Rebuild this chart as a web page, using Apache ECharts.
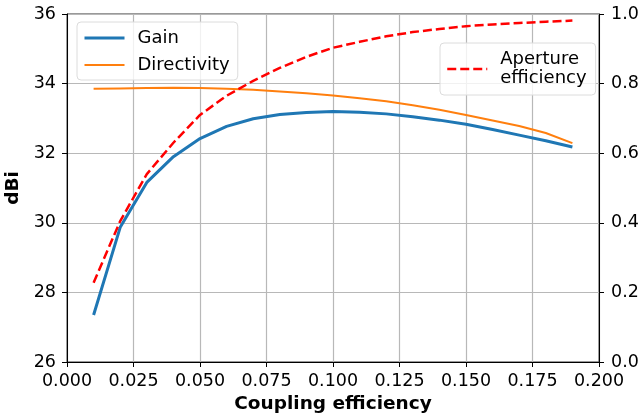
<!DOCTYPE html>
<html>
<head>
<meta charset="utf-8">
<script src="https://cdn.jsdelivr.net/npm/echarts@6/dist/echarts.min.js"></script>
<style>
  html, body { margin: 0; padding: 0; background: #fff; }
  #chart { width: 642px; height: 420px; }
</style>
</head>
<body>
<div id="chart"></div>
<script>
// Coupling efficiency samples
const coupling = [0.01, 0.02, 0.03, 0.04, 0.05, 0.06, 0.07, 0.08, 0.09, 0.10,
                  0.11, 0.12, 0.13, 0.14, 0.15, 0.16, 0.17, 0.18, 0.19];
// Gain (dBi)
const gain = [27.35, 29.87, 31.16, 31.9, 32.42, 32.77, 32.99, 33.11, 33.17, 33.2,
              33.18, 33.13, 33.05, 32.95, 32.83, 32.68, 32.52, 32.36, 32.18];
// Directivity (dBi)
const directivity = [33.85, 33.86, 33.87, 33.88, 33.87, 33.85, 33.82, 33.77, 33.72, 33.66,
                     33.58, 33.49, 33.38, 33.25, 33.1, 32.94, 32.78, 32.58, 32.29];
// Aperture efficiency (right axis)
const aperture = [0.228, 0.405, 0.54, 0.63, 0.71, 0.765, 0.808, 0.845, 0.877, 0.903,
                  0.92, 0.936, 0.948, 0.957, 0.965, 0.97, 0.974, 0.978, 0.981];

const pairs = (xs, ys) => xs.map((x, i) => [x, ys[i]]);
const FONT = 'DejaVu Sans';
const TICK_SIZE = 17.5;
const TITLE_SIZE = 18.5;

const chart = echarts.init(document.getElementById('chart'), null, { renderer: 'canvas' });

const legendBox = {
  orient: 'vertical',
  itemWidth: 40, itemHeight: 14,
  backgroundColor: 'rgba(255,255,255,0.8)',
  borderColor: '#dcdcdc', borderWidth: 1, borderRadius: 4,
  itemStyle: { opacity: 0 },
  textStyle: { fontFamily: FONT, fontSize: 18, color: '#000', padding: [0, 0, 0, 8] }
};

chart.setOption({
  animation: false,
  backgroundColor: '#fff',
  textStyle: { fontFamily: FONT },
  grid: {
    left: 67, right: 43, top: 14, bottom: 58,
    outerBoundsMode: 'none', containLabel: false,
    show: true, borderColor: '#333', borderWidth: 1, backgroundColor: 'transparent'
  },
  legend: [
    Object.assign({}, legendBox, {
      data: [
        { name: 'Gain', lineStyle: { width: 3 } },
        { name: 'Directivity', lineStyle: { width: 2 } }
      ],
      left: 77, top: 22, itemGap: 9,
      padding: [7, 8, 6, 6]
    }),
    Object.assign({}, legendBox, {
      data: [{ name: 'Aperture\nefficiency', lineStyle: { width: 2.5 } }],
      left: 440, top: 43,
      padding: [7, 9, 7, 6],
      textStyle: Object.assign({}, legendBox.textStyle, { lineHeight: 19 })
    })
  ],
  xAxis: {
    type: 'value', min: 0, max: 0.2, interval: 0.025,
    name: 'Coupling efficiency', nameLocation: 'middle', nameGap: 32,
    nameTextStyle: { fontFamily: FONT, fontSize: TITLE_SIZE, fontWeight: 'bold', color: '#000' },
    axisLine: { show: true, onZero: false, lineStyle: { color: '#000', width: 1 } },
    axisTick: { show: true, length: 5, lineStyle: { color: '#000' } },
    axisLabel: { fontFamily: FONT, fontSize: TICK_SIZE, color: '#000', margin: 10,
                 formatter: v => v.toFixed(3) },
    splitLine: { show: true, lineStyle: { color: '#b8b8b8', width: 1.2 } }
  },
  yAxis: [
    {
      type: 'value', min: 26, max: 36, interval: 2,
      name: 'dBi', nameLocation: 'middle', nameGap: 38,
      nameTextStyle: { fontFamily: FONT, fontSize: TITLE_SIZE, fontWeight: 'bold', color: '#000' },
      axisLine: { show: true, lineStyle: { color: '#000', width: 1 } },
      axisTick: { show: true, length: 5, lineStyle: { color: '#000' } },
      axisLabel: { fontFamily: FONT, fontSize: TICK_SIZE, color: '#000', margin: 11 },
      splitLine: { show: true, lineStyle: { color: '#b8b8b8', width: 1.2 } }
    },
    {
      type: 'value', min: 0, max: 1, interval: 0.2, position: 'right',
      axisLine: { show: true, lineStyle: { color: '#000', width: 1 } },
      axisTick: { show: true, length: 5, lineStyle: { color: '#000' } },
      axisLabel: { fontFamily: FONT, fontSize: TICK_SIZE, color: '#000', margin: 12,
                   formatter: v => v.toFixed(1) },
      splitLine: { show: false }
    }
  ],
  series: [
    {
      name: 'Gain', type: 'line', yAxisIndex: 0,
      data: pairs(coupling, gain), showSymbol: false, symbol: 'none',
      lineStyle: { color: '#1f77b4', width: 3 }, itemStyle: { color: '#1f77b4' }, z: 3
    },
    {
      name: 'Directivity', type: 'line', yAxisIndex: 0,
      data: pairs(coupling, directivity), showSymbol: false, symbol: 'none',
      lineStyle: { color: '#ff7f0e', width: 2 }, itemStyle: { color: '#ff7f0e' }, z: 2
    },
    {
      name: 'Aperture\nefficiency', type: 'line', yAxisIndex: 1,
      data: pairs(coupling, aperture), showSymbol: false, symbol: 'none',
      lineStyle: { color: '#ff0000', width: 2.5, type: [9, 4] }, itemStyle: { color: '#ff0000' }, z: 4
    }
  ]
});
</script>
</body>
</html>
